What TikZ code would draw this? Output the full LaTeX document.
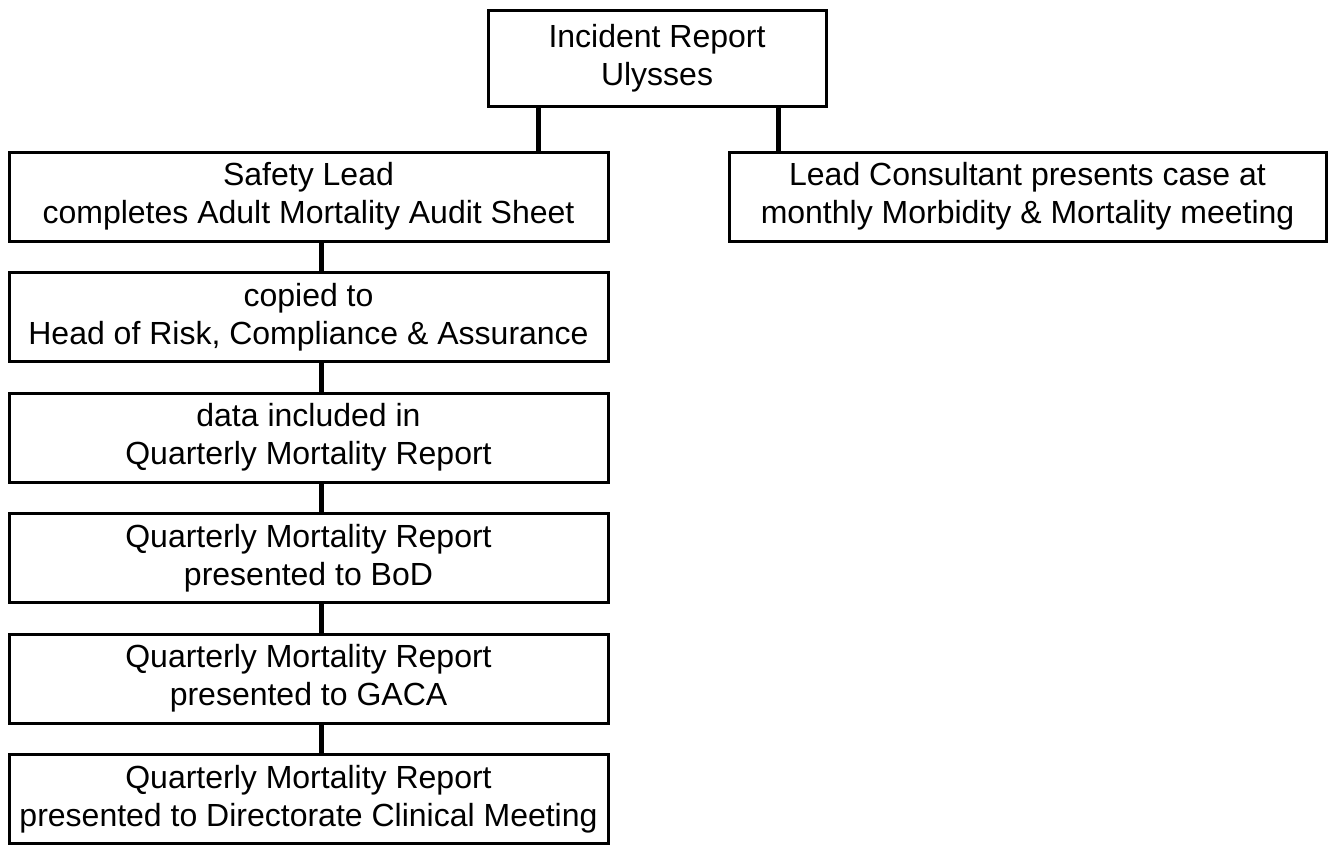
\documentclass[tikz,border=0pt]{standalone}
\usepackage{fontspec}
\setmainfont{Liberation Sans}
\begin{document}
\begin{tikzpicture}[x=0.75pt,y=-0.75pt,
  box/.style={draw=black, line width=2.25pt, fill=white, rectangle, align=center, inner sep=0pt,
    font=\fontsize{24}{28.4}\selectfont, text=black},
  conn/.style={draw=black, line width=3.75pt}]
\useasboundingbox (0,0) rectangle (1330,846);
\fill[white] (0,0) rectangle (1330,846);
\coordinate (cl) at (538,0);
\coordinate (cr) at (778,0);
\coordinate (cx) at (321,0);
\node[box, minimum width=338*0.75pt, minimum height=96*0.75pt] (top) at (657,58) {Incident Report\\Ulysses};
\node[box, minimum width=599*0.75pt, minimum height=89*0.75pt] (b1) at (308.5,196.5) {Safety Lead\\completes Adult Mortality Audit Sheet};
\node[box, minimum width=597*0.75pt, minimum height=89*0.75pt] (lead) at (1027.5,196.5) {Lead Consultant presents case at\\monthly Morbidity \& Mortality meeting};
\node[box, minimum width=599*0.75pt, minimum height=89*0.75pt] (b2) at (308.5,317) {copied to\\Head of Risk, Compliance \& Assurance};
\node[box, minimum width=599*0.75pt, minimum height=89*0.75pt] (b3) at (308.5,437.5) {data included in\\Quarterly Mortality Report};
\node[box, minimum width=599*0.75pt, minimum height=89*0.75pt] (b4) at (308.5,558) {Quarterly Mortality Report\\presented to BoD};
\node[box, minimum width=599*0.75pt, minimum height=89*0.75pt] (b5) at (308.5,678.5) {Quarterly Mortality Report\\presented to GACA};
\node[box, minimum width=599*0.75pt, minimum height=89*0.75pt] (b6) at (308.5,799) {Quarterly Mortality Report\\presented to Directorate Clinical Meeting};
\draw[conn] (top.south -| cl) -- (b1.north -| cl);
\draw[conn] (top.south -| cr) -- (lead.north -| cr);
\draw[conn] (b1.south -| cx) -- (b2.north -| cx);
\draw[conn] (b2.south -| cx) -- (b3.north -| cx);
\draw[conn] (b3.south -| cx) -- (b4.north -| cx);
\draw[conn] (b4.south -| cx) -- (b5.north -| cx);
\draw[conn] (b5.south -| cx) -- (b6.north -| cx);
\end{tikzpicture}
\end{document}
